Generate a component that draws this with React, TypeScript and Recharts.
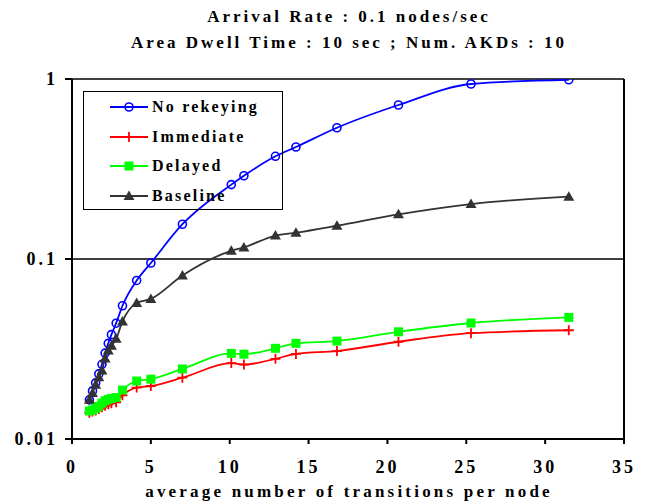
import React from 'react';
import { LineChart, Line, XAxis, YAxis, CartesianGrid, Legend, ReferenceLine } from 'recharts';

// transitions per node (shared x for every curve)
const transitions = [1.1, 1.3, 1.5, 1.7, 1.9, 2.1, 2.3, 2.5, 2.8, 3.2, 4.1, 5.0, 7.0, 10.1, 10.9, 12.9, 14.2, 16.8, 20.7, 25.3, 31.5];

const noRekeying = [0.0165, 0.0185, 0.0205, 0.023, 0.026, 0.03, 0.034, 0.038, 0.044, 0.055, 0.076, 0.095, 0.156, 0.259, 0.29, 0.372, 0.419, 0.536, 0.717, 0.938, 0.99];
const immediate = [0.014, 0.0142, 0.0144, 0.0147, 0.015, 0.0153, 0.0156, 0.0158, 0.016, 0.0175, 0.0193, 0.0197, 0.0219, 0.0264, 0.0259, 0.0279, 0.0297, 0.0308, 0.0347, 0.0387, 0.0402];
const delayed = [0.0143, 0.0145, 0.0148, 0.0152, 0.0158, 0.0163, 0.0166, 0.0168, 0.017, 0.0187, 0.021, 0.0215, 0.0245, 0.0299, 0.0296, 0.0319, 0.034, 0.035, 0.0394, 0.0441, 0.0474];
const baseline = [0.0165, 0.018, 0.02, 0.022, 0.024, 0.028, 0.031, 0.033, 0.036, 0.045, 0.057, 0.06, 0.081, 0.111, 0.116, 0.135, 0.14, 0.153, 0.177, 0.202, 0.222];

const xTicks = [0, 5, 10, 15, 20, 25, 30, 35];
const yTicks = [0.01, 0.1, 1];

const data = transitions.map((x, i) => ({
  x,
  noRekeying: noRekeying[i],
  immediate: immediate[i],
  delayed: delayed[i],
  baseline: baseline[i],
}));

const FONT = 'Liberation Serif';

type Marker = 'circle' | 'plus' | 'square' | 'triangle';

const series: { key: string; name: string; color: string; marker: Marker }[] = [
  { key: 'noRekeying', name: 'No rekeying', color: '#0000ff', marker: 'circle' },
  { key: 'immediate', name: 'Immediate', color: '#ff0000', marker: 'plus' },
  { key: 'delayed', name: 'Delayed', color: '#00ff00', marker: 'square' },
  { key: 'baseline', name: 'Baseline', color: '#333333', marker: 'triangle' },
];

const drawMarker = (marker: Marker, color: string, cx: number, cy: number, key?: string | number) => {
  switch (marker) {
    case 'circle':
      return <circle key={key} cx={cx} cy={cy} r={4} fill="none" stroke={color} strokeWidth={1.6} />;
    case 'plus':
      return <path key={key} d={`M${cx - 5},${cy}H${cx + 5}M${cx},${cy - 5}V${cy + 5}`} stroke={color} strokeWidth={1.8} fill="none" />;
    case 'square':
      return <rect key={key} x={cx - 4.5} y={cy - 4.5} width={9} height={9} fill={color} />;
    default:
      return <path key={key} d={`M${cx},${cy - 5.5}L${cx + 5.5},${cy + 4}L${cx - 5.5},${cy + 4}Z`} fill={color} />;
  }
};

const makeDot = (marker: Marker, color: string) => (props: any) => {
  const { cx, cy, index } = props;
  if (cx == null || cy == null) return <g key={`d-${index}`} />;
  return drawMarker(marker, color, cx, cy, `d-${index}`);
};

const renderLegend = () => (
  <div
    style={{
      width: 200,
      height: 119,
      border: '1.5px solid #000',
      boxSizing: 'border-box',
      position: 'relative',
      fontFamily: FONT,
      fontWeight: 'bold',
      fontSize: 16,
      letterSpacing: 2.2,
      color: '#000',
    }}
  >
    {series.map((s, i) => (
      <div
        key={s.key}
        style={{ position: 'absolute', left: 25, top: 4 + i * 29.5, height: 22, display: 'flex', alignItems: 'center', whiteSpace: 'nowrap' }}
      >
        <svg width={40} height={22}>
          <line x1={1} y1={11} x2={39} y2={11} stroke={s.color} strokeWidth={1.8} />
          {drawMarker(s.marker, s.color, 20, 11)}
        </svg>
        <span style={{ marginLeft: 3 }}>{s.name}</span>
      </div>
    ))}
  </div>
);

const textStyle: React.CSSProperties = {
  position: 'absolute',
  left: 0,
  width: 698,
  textAlign: 'center',
  fontFamily: FONT,
  fontWeight: 'bold',
  fontSize: 17,
  letterSpacing: 3,
  color: '#000',
  whiteSpace: 'nowrap',
};

const tickStyle = { fill: '#000', fontFamily: FONT, fontWeight: 'bold', fontSize: 18, letterSpacing: 3 };

export default function App() {
  return (
    <div style={{ position: 'absolute', left: 0, top: 0, width: 647, height: 502, background: '#fff' }}>
      <div style={{ ...textStyle, top: 7 }}>Arrival Rate : 0.1 nodes/sec</div>
      <div style={{ ...textStyle, top: 33 }}>Area Dwell Time : 10 sec ; Num. AKDs : 10</div>
      <LineChart width={647} height={502} data={data} margin={{ top: 79, right: 23, bottom: 23, left: 0 }}>
        <CartesianGrid vertical={false} stroke="#000" strokeWidth={1.5} />
        <XAxis
          dataKey="x"
          type="number"
          domain={[0, 35]}
          ticks={xTicks}
          height={40}
          stroke="#000"
          strokeWidth={2}
          tickSize={5}
          tickMargin={16}
          tick={tickStyle}
        />
        <YAxis
          scale="log"
          domain={[0.01, 1]}
          ticks={yTicks}
          allowDataOverflow
          width={72}
          stroke="#000"
          strokeWidth={2}
          tickSize={7}
          tickMargin={7}
          tickFormatter={(v: number) => String(v)}
          tick={tickStyle}
        />
        <ReferenceLine x={35} stroke="#000" strokeWidth={2} />
        <Legend
          layout="vertical"
          align="center"
          verticalAlign="middle"
          content={renderLegend}
          wrapperStyle={{ left: 83, top: 91, width: 200 }}
        />
        {series.map((s) => (
          <Line
            key={s.key}
            type="monotone"
            dataKey={s.key}
            name={s.name}
            stroke={s.color}
            strokeWidth={1.8}
            dot={makeDot(s.marker, s.color)}
            activeDot={false}
            isAnimationActive={false}
          />
        ))}
      </LineChart>
      <div style={{ ...textStyle, top: 482, letterSpacing: 3.2 }}>average number of transitions per node</div>
    </div>
  );
}
